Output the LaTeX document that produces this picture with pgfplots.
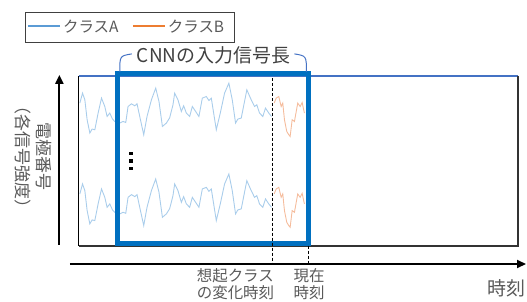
\documentclass[border=0pt]{standalone}
\usepackage{fontspec}
\setmainfont{Noto Sans CJK JP}
\usepackage{pgfplots}
\pgfplotsset{compat=1.18}
\usepackage{pgfplotstable}
\usetikzlibrary{arrows.meta}
\definecolor{sigA}{HTML}{A9CDEB}
\definecolor{sigB}{HTML}{F5BC9C}
\definecolor{legA}{HTML}{5B9BD5}
\definecolor{legB}{HTML}{ED7D31}
\definecolor{boxblue}{HTML}{0070C0}
\definecolor{frameblue}{HTML}{4472C4}
\definecolor{txtgray}{HTML}{595959}

% signal of class A (pixel coordinates, y downward), top electrode
\pgfplotstableread{
x y
80 103.3
82.7 93.3
85 100
87.3 120
90 133.3
92.3 129.3
95 130
98.3 113.3
101.7 98.3
105 106.7
107.3 116.7
110 113.3
112.7 119.3
115 121.7
118.5 124
123.3 121.7
126 122.7
128.3 106.7
131.7 104
135 106
137.3 104
140 116.7
144 135
147.3 116.7
151.7 100
156 88.3
159.3 101.7
162.7 126.7
166.7 123.3
170 118
173.3 105
175 93.3
178.3 100
181.7 111.7
184 106
186.7 113.3
190 116.7
192.7 106.7
196 111.7
199.3 116.7
202.7 98.3
206.7 96.7
209.3 100.7
211.7 98.3
216.7 130
220.7 113.3
225 93.3
229.3 83.3
232.7 100
236 123.3
238.3 119.3
241.7 118.3
247.3 90
251.7 100
255 106.7
257.3 105
260 113.3
263.3 116.7
266 108.3
269.3 113.3
272 116.7
}\sigAtab

% signal of class B, top electrode
\pgfplotstableread{
x y
274.7 103.3
276.7 98.3
279.3 96.7
281.7 106.7
283.3 103.3
285 120
287.3 131.7
289.3 135
290.7 136.7
292.7 120
295 121.7
298.3 103.3
300.7 106.7
302.7 102.7
305 113.3
}\sigBtab

\begin{document}
\begin{tikzpicture}
\begin{axis}[
  scale only axis, width=527bp, height=302bp,
  xmin=0, xmax=527, ymin=0, ymax=302, y dir=reverse,
  hide axis, clip=false]
\path (axis cs:0,0) rectangle (axis cs:527,302);

% legend
\draw[draw=black!75, line width=1bp] (axis cs:26,12.3) rectangle (axis cs:235,42.3);
\addplot[color=legA, line width=1.3bp, forget plot] coordinates {(28,26) (60,26)};
\node[anchor=west, inner sep=0pt, text=txtgray, font=\fontsize{15.5bp}{17bp}\selectfont] at (axis cs:63,26.5) {クラスA};
\addplot[color=legB, line width=1.3bp, forget plot] coordinates {(133,26) (165,26)};
\node[anchor=west, inner sep=0pt, text=txtgray, font=\fontsize{15.5bp}{17bp}\selectfont] at (axis cs:168,26.5) {クラスB};

% outer frame
\addplot[color=frameblue, line width=1.4bp, forget plot] coordinates {(79,76) (519,76)};
\draw[black!80, line width=1.5bp] (axis cs:519,76) -- (axis cs:519,246.5) -- (axis cs:79,246.5);
\draw[black, line width=1.2bp] (axis cs:79,76) -- (axis cs:79,246.5);

% signals
\addplot[color=sigA, line width=0.9bp, forget plot] table[x=x, y=y] {\sigAtab};
\addplot[color=sigA, line width=0.9bp, forget plot] table[x=x, y expr=\thisrow{y}+91] {\sigAtab};
\addplot[color=sigB, line width=0.9bp, forget plot] table[x=x, y=y] {\sigBtab};
\addplot[color=sigB, line width=0.9bp, forget plot] table[x=x, y expr=\thisrow{y}+91] {\sigBtab};

% vertical ellipsis
\addplot[only marks, mark=square*, mark size=1.4bp, black, forget plot] coordinates {(131,153.5) (131,161) (131,168.5)};

% CNN input window
\draw[color=boxblue, line width=5bp] (axis cs:118,74) rectangle (axis cs:309,244);
\draw[color=frameblue, line width=1bp] (axis cs:120,72) .. controls (axis cs:120,56) .. (axis cs:132,54);
\draw[color=frameblue, line width=1bp] (axis cs:307,72) .. controls (axis cs:307,56) .. (axis cs:295,54);
\node[text=black!75, inner sep=0pt, font=\fontsize{19bp}{21bp}\selectfont] at (axis cs:214,55.5) {CNNの入力信号長};

% dashed time markers
\draw[black, line width=1bp, dash pattern=on 3bp off 2bp] (axis cs:273,78) -- (axis cs:273,265);
\draw[black, line width=1bp, dash pattern=on 3bp off 2bp] (axis cs:309.5,246) -- (axis cs:309.5,265);

% axes arrows
\draw[black, line width=2bp, -{Triangle[width=8bp,length=9bp]}] (axis cs:59.5,245) -- (axis cs:59.5,75);
\draw[black, line width=2bp, -{Triangle[width=8bp,length=9bp]}] (axis cs:70,264.5) -- (axis cs:527,264.5);

% labels
\node[rotate=-90, text=txtgray, inner sep=0pt, font=\fontsize{17bp}{19bp}\selectfont] at (axis cs:44.5,157) {電極番号};
\node[rotate=-90, text=txtgray, inner sep=0pt, font=\fontsize{17bp}{19bp}\selectfont] at (axis cs:23,157) {（各信号強度）};
\node[anchor=north west, align=left, text=txtgray, inner sep=0pt, font=\fontsize{15.5bp}{17bp}\selectfont] at (axis cs:197,268.5) {想起クラス\\の変化時刻};
\node[anchor=north west, align=left, text=txtgray, inner sep=0pt, font=\fontsize{15.5bp}{17bp}\selectfont] at (axis cs:294,268.5) {現在\\時刻};
\node[text=txtgray, inner sep=0pt, font=\fontsize{19bp}{21bp}\selectfont] at (axis cs:507.5,289) {時刻};
\end{axis}
\end{tikzpicture}
\end{document}
